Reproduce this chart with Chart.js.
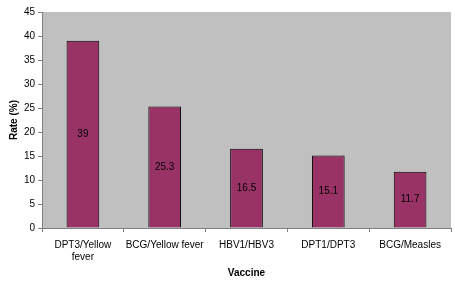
<!DOCTYPE html>
<html lang="en">
  <head>
    <meta charset="UTF-8" />
    <title>Rate by vaccine</title>
    <script src="https://cdn.jsdelivr.net/npm/chart.js"></script>
    <style>
      html, body { margin: 0; padding: 0; background: #fff; }
      #wrap { width: 455px; height: 283px; }
    </style>
  </head>
  <body>
    <div id="wrap"><canvas id="rateChart" width="455" height="283"></canvas></div>
    <script>
      // data
      const vaccines = [['DPT3/Yellow', 'fever'], 'BCG/Yellow fever', 'HBV1/HBV3', 'DPT1/DPT3', 'BCG/Measles'];
      const rates = [39, 25.3, 16.5, 15.1, 11.7];
      const yTicks = { min: 0, max: 45, step: 5 };

      // grey plot area
      const plotBg = {
        id: 'plotBg',
        beforeDraw(chart) {
          const a = chart.chartArea;
          const ctx = chart.ctx;
          ctx.save();
          ctx.fillStyle = '#c0c0c0';
          ctx.fillRect(a.left, a.top, a.right - a.left, a.bottom - a.top);
          ctx.restore();
        },
      };

      // value written in the middle of each bar
      const midLabels = {
        id: 'midLabels',
        afterDatasetsDraw(chart) {
          const ctx = chart.ctx;
          const meta = chart.getDatasetMeta(0);
          ctx.save();
          ctx.fillStyle = '#000';
          ctx.font = '10px "Liberation Sans", Arial, sans-serif';
          ctx.textAlign = 'center';
          ctx.textBaseline = 'middle';
          meta.data.forEach((bar, i) => {
            ctx.fillText(String(rates[i]), bar.x, (bar.y + bar.base) / 2);
          });
          ctx.restore();
        },
      };

      const font = { family: '"Liberation Sans", Arial, sans-serif', size: 10 };

      new Chart(document.getElementById('rateChart'), {
        type: 'bar',
        data: {
          labels: vaccines,
          datasets: [
            {
              data: rates,
              backgroundColor: '#993366',
              borderColor: '#000',
              borderWidth: 1,
              categoryPercentage: 1,
              barPercentage: 0.4,
            },
          ],
        },
        options: {
          responsive: false,
          animation: false,
          layout: { padding: { top: 12, right: 4, left: 4, bottom: 0 } },
          plugins: { legend: { display: false }, tooltip: { enabled: false } },
          scales: {
            x: {
              afterFit(s) { s.height = 55; },
              border: { color: '#808080', width: 1 },
              grid: { drawOnChartArea: false, tickLength: 4, color: '#808080', offset: true },
              ticks: { color: '#000', font: font, padding: 7, maxRotation: 0, autoSkip: false },
              title: {
                display: true,
                text: 'Vaccine',
                color: '#000',
                font: { family: font.family, size: 10, weight: 'bold' },
                padding: { top: 10 },
              },
            },
            y: {
              min: yTicks.min,
              max: yTicks.max,
              afterFit(s) { s.width = 38; },
              border: { color: '#808080', width: 1 },
              grid: { drawOnChartArea: false, tickLength: 4, color: '#808080' },
              ticks: { stepSize: yTicks.step, color: '#000', font: font, padding: 3 },
              title: {
                display: true,
                text: 'Rate (%)',
                color: '#000',
                font: { family: font.family, size: 10, weight: 'bold' },
                padding: { bottom: 0 },
              },
            },
          },
        },
        plugins: [plotBg, midLabels],
      });
    </script>
  </body>
</html>
